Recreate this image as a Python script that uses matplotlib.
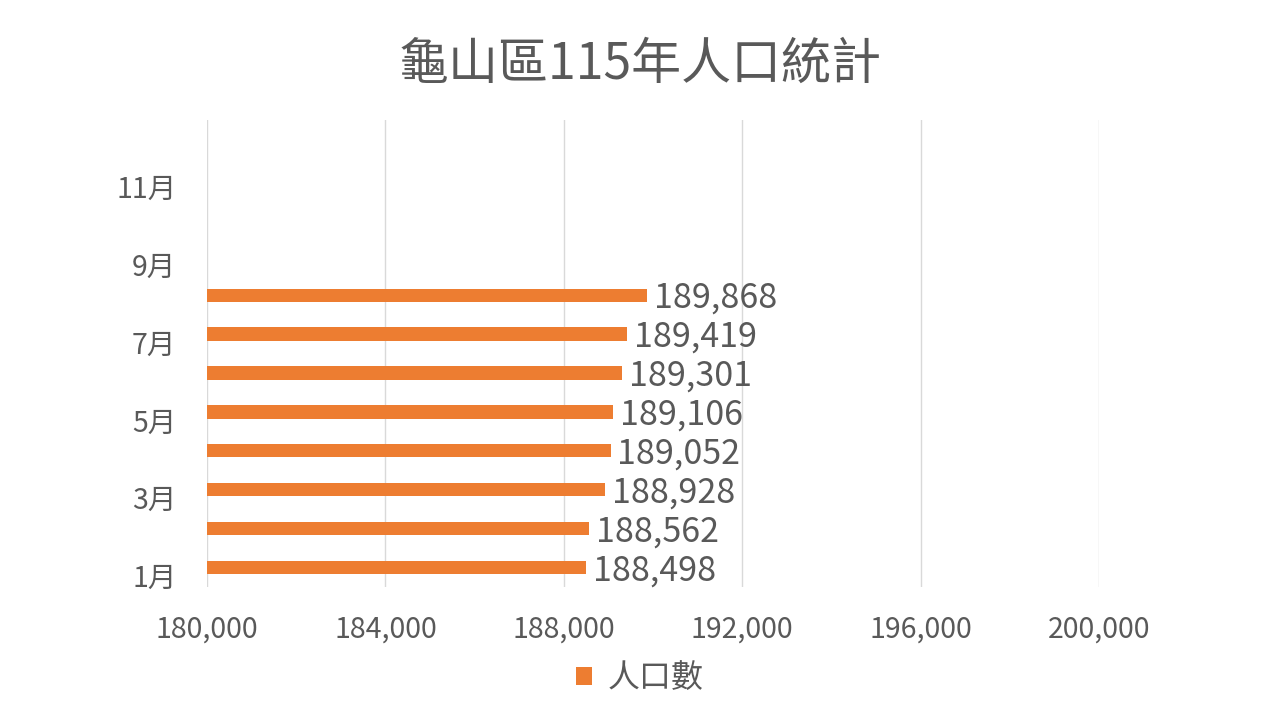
import matplotlib
matplotlib.use('Agg')
import matplotlib.pyplot as plt
import matplotlib.transforms as mtransforms

plt.rcParams['font.family'] = ['Noto Sans CJK TC', 'DejaVu Sans']

# data
months = ['1月', '2月', '3月', '4月', '5月', '6月', '7月', '8月', '9月', '10月', '11月', '12月']
population = [188498, 188562, 188928, 189052, 189106, 189301, 189419, 189868, None, None, None, None]
x_ticks = [180000, 184000, 188000, 192000, 196000, 200000]

text_color = '#595959'
bar_color = '#ED7D31'

fig = plt.figure(figsize=(12.8, 7.2), dpi=100)
ax = fig.add_axes([0.1617, 0.1847, 0.8586 - 0.1617, 0.8333 - 0.1847])

pos = list(range(len(months)))
vals = [v for v in population if v is not None]
bpos = pos[:len(vals)]
ax.barh(bpos, [v - 180000 for v in vals], left=180000, height=0.34,
        color=bar_color, label='人口數', zorder=3)

for p, v in zip(bpos, vals):
    ax.text(v + 150, p - 0.08, f'{v:,}', va='center', ha='left',
            fontsize=24.5, color=text_color)

ax.set_xlim(180000, 200000)
ax.set_ylim(-0.5, len(months) - 0.5)
ax.set_xticks(x_ticks)
ax.set_xticklabels([f'{t:,}' for t in x_ticks])
ax.set_yticks(pos[::2])
ax.set_yticklabels(months[::2])
ax.tick_params(axis='both', length=0, labelsize=20.5, colors=text_color)
ax.tick_params(axis='x', pad=20)
ax.tick_params(axis='y', pad=22)
# labels sit a little below the category centre, like the original
shift = mtransforms.ScaledTranslation(0, -8 / 100, fig.dpi_scale_trans)
for lbl in ax.get_yticklabels():
    lbl.set_transform(lbl.get_transform() + shift)
ax.grid(axis='x', color='#D9D9D9', linewidth=1, zorder=0)
for s in ax.spines.values():
    s.set_visible(False)

fig.text(0.5, 0.91, '龜山區115年人口統計', fontsize=36, color=text_color,
         ha='center', va='center')

leg = fig.legend(loc='center', bbox_to_anchor=(0.5, 0.058), frameon=False,
                 fontsize=23, handlelength=0.5, handleheight=0.5,
                 handletextpad=0.5)
for t in leg.get_texts():
    t.set_color(text_color)

fig.savefig('out.png', dpi=100)
